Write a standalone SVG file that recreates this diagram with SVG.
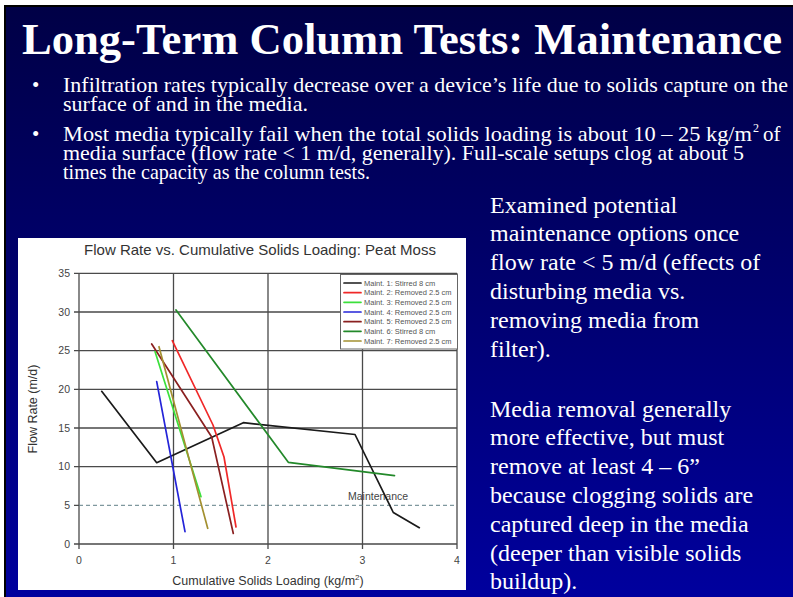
<svg xmlns="http://www.w3.org/2000/svg" width="793" height="597" viewBox="0 0 793 597">
  <defs>
    <linearGradient id="slideBg" x1="0" y1="0" x2="0" y2="1">
      <stop offset="0" stop-color="#000046"/>
      <stop offset="0.5" stop-color="#000070"/>
      <stop offset="1" stop-color="#00009e"/>
    </linearGradient>
  </defs>
  <style>
    .title { font-family: "Liberation Serif", "Times New Roman", serif; font-weight: bold; font-size: 44px; fill: #ffffff; }
    .bullet { font-family: "Liberation Serif", "Times New Roman", serif; font-size: 21px; fill: #ffffff; }
    .sup { font-family: "Liberation Serif", "Times New Roman", serif; font-size: 12px; fill: #ffffff; }
    .side { font-family: "Liberation Serif", "Times New Roman", serif; font-size: 24px; fill: #ffffff; }
    .grid { stroke: #4a4a4a; stroke-width: 1.3; fill: none; }
    .tick { font-family: "Liberation Sans", Arial, sans-serif; font-size: 10.5px; fill: #444444; }
    .axisTitle { font-family: "Liberation Sans", Arial, sans-serif; font-size: 12.5px; fill: #333333; }
    .chartTitle { font-family: "Liberation Sans", Arial, sans-serif; font-size: 15px; fill: #333333; }
    .legendText { font-family: "Liberation Sans", Arial, sans-serif; font-size: 7.5px; fill: #555555; }
    .series { fill: none; stroke-width: 1.7; stroke-linejoin: round; stroke-linecap: round; }
    .s1 { stroke: #1a1a1a; }
    .s2 { stroke: #f02828; }
    .s3 { stroke: #3be03b; }
    .s4 { stroke: #2424d8; }
    .s5 { stroke: #8a2020; }
    .s6 { stroke: #23892a; }
    .s7 { stroke: #a39030; }
  </style>

  <!-- slide frame and background -->
  <rect x="0" y="0" width="793" height="597" fill="#ffffff"/>
  <rect x="4" y="5" width="789" height="592" fill="#000000"/>
  <rect x="6" y="7" width="787" height="590" fill="url(#slideBg)"/>

  <!-- heading -->
  <g id="heading">
    <text class="title" x="22" y="53.5" textLength="760" lengthAdjust="spacingAndGlyphs">Long-Term Column Tests: Maintenance</text>
  </g>

  <!-- bullet list -->
  <g id="bullets">
    <text class="bullet" x="32" y="91.5">•</text>
    <text class="bullet" x="63" y="91.5" textLength="725" lengthAdjust="spacingAndGlyphs">Infiltration rates typically decrease over a device’s life due to solids capture on the</text>
    <text class="bullet" x="63" y="110.5" textLength="245" lengthAdjust="spacingAndGlyphs">surface of and in the media.</text>
    <text class="bullet" x="32" y="140.5">•</text>
    <text class="bullet" x="63" y="140.5" textLength="689" lengthAdjust="spacingAndGlyphs">Most media typically fail when the total solids loading is about 10 – 25 kg/m</text>
    <text class="sup" x="753" y="132">2</text>
    <text class="bullet" x="763" y="140.5">of</text>
    <text class="bullet" x="63" y="160" textLength="681" lengthAdjust="spacingAndGlyphs">media surface (flow rate &lt; 1 m/d, generally). Full-scale setups clog at about 5</text>
    <text class="bullet" x="63" y="179" textLength="307" lengthAdjust="spacingAndGlyphs">times the capacity as the column tests.</text>
  </g>

  <!-- side notes -->
  <g id="notes">
    <text class="side" x="490" y="212.5">Examined potential</text>
    <text class="side" x="490" y="241.3">maintenance options once</text>
    <text class="side" x="490" y="270.1">flow rate &lt; 5 m/d (effects of</text>
    <text class="side" x="490" y="298.9">disturbing media vs.</text>
    <text class="side" x="490" y="327.7">removing media from</text>
    <text class="side" x="490" y="356.5">filter).</text>
    <text class="side" x="490" y="416.5">Media removal generally</text>
    <text class="side" x="490" y="445.3">more effective, but must</text>
    <text class="side" x="490" y="474.1">remove at least 4 – 6”</text>
    <text class="side" x="490" y="502.9">because clogging solids are</text>
    <text class="side" x="490" y="531.7">captured deep in the media</text>
    <text class="side" x="490" y="560.5">(deeper than visible solids</text>
    <text class="side" x="490" y="589.3">buildup).</text>
  </g>

  <!-- chart: flow rate vs cumulative solids loading -->
  <g id="chart">
    <rect x="18" y="238" width="448" height="352" fill="#ffffff"/>
    <text class="chartTitle" x="260" y="255" text-anchor="middle">Flow Rate vs. Cumulative Solids Loading: Peat Moss</text>

    <!-- grid (x: 0..4 -> 79..457, y: 0..35 -> 544..273.3) -->
    <g id="grid">
      <path class="grid" d="M79 273.3H457M79 312H457M79 350.7H457M79 389.3H457M79 428H457M79 466.7H457M79 544H457"/>
      <path class="grid" d="M79 273.3V544M173.5 273.3V544M268 273.3V544M362.5 273.3V544M457 273.3V544"/>
      <path class="grid" d="M74 273.3H79M74 312H79M74 350.7H79M74 389.3H79M74 428H79M74 466.7H79M74 505.3H79M74 544H79"/>
      <path class="grid" d="M79 544V549M173.5 544V549M268 544V549M362.5 544V549M457 544V549"/>
    </g>

    <!-- maintenance threshold -->
    <path d="M79 505.3H457" stroke="#5f7f86" stroke-width="1" stroke-dasharray="4 3" fill="none"/>
    <text class="tick" x="348" y="500">Maintenance</text>

    <!-- axis labels -->
    <g id="yTicks" text-anchor="end">
      <text class="tick" x="70" y="277">35</text>
      <text class="tick" x="70" y="315.7">30</text>
      <text class="tick" x="70" y="354.4">25</text>
      <text class="tick" x="70" y="393">20</text>
      <text class="tick" x="70" y="431.7">15</text>
      <text class="tick" x="70" y="470.4">10</text>
      <text class="tick" x="70" y="509">5</text>
      <text class="tick" x="70" y="547.7">0</text>
    </g>
    <g id="xTicks" text-anchor="middle">
      <text class="tick" x="79" y="564">0</text>
      <text class="tick" x="173.5" y="564">1</text>
      <text class="tick" x="268" y="564">2</text>
      <text class="tick" x="362.5" y="564">3</text>
      <text class="tick" x="457" y="564">4</text>
    </g>
    <text class="axisTitle" x="268" y="585" text-anchor="middle">Cumulative Solids Loading (kg/m<tspan style="font-size:8px" dy="-5">2</tspan><tspan dy="5">)</tspan></text>
    <text class="axisTitle" transform="translate(37 409) rotate(-90)" text-anchor="middle">Flow Rate (m/d)</text>

    <!-- data series -->
    <g id="series">
      <polyline class="series s1" points="101.7,391.3 156.7,462.7 243.3,422.7 355,434.5 393.3,512.5 419.3,527.7"/>
      <polyline class="series s6" points="176,310 288.3,462.3 394.5,475.7"/>
      <polyline class="series s2" points="172.3,340.7 213,425 224,457 236,527"/>
      <polyline class="series s5" points="151.7,344 211.7,437 233.3,533.5"/>
      <polyline class="series s3" points="155,351.5 201,496.7"/>
      <polyline class="series s7" points="159,346.7 207.7,528.3"/>
      <polyline class="series s4" points="156.7,381.7 185,531.7"/>
    </g>

    <!-- legend -->
    <g id="legend">
      <rect x="340.5" y="274.5" width="117" height="74.5" fill="#ffffff" stroke="#666666" stroke-width="1"/>
      <path class="series s1" d="M344 283H361"/>
      <path class="series s2" d="M344 292.7H361"/>
      <path class="series s3" d="M344 302.3H361"/>
      <path class="series s4" d="M344 312H361"/>
      <path class="series s5" d="M344 321.7H361"/>
      <path class="series s6" d="M344 331.3H361"/>
      <path class="series s7" d="M344 341H361"/>
      <text class="legendText" x="364" y="285.6">Maint. 1: Stirred 8 cm</text>
      <text class="legendText" x="364" y="295.3">Maint. 2: Removed 2.5 cm</text>
      <text class="legendText" x="364" y="304.9">Maint. 3: Removed 2.5 cm</text>
      <text class="legendText" x="364" y="314.6">Maint. 4: Removed 2.5 cm</text>
      <text class="legendText" x="364" y="324.3">Maint. 5: Removed 2.5 cm</text>
      <text class="legendText" x="364" y="333.9">Maint. 6: Stirred 8 cm</text>
      <text class="legendText" x="364" y="343.6">Maint. 7: Removed 2.5 cm</text>
    </g>
  </g>
</svg>
